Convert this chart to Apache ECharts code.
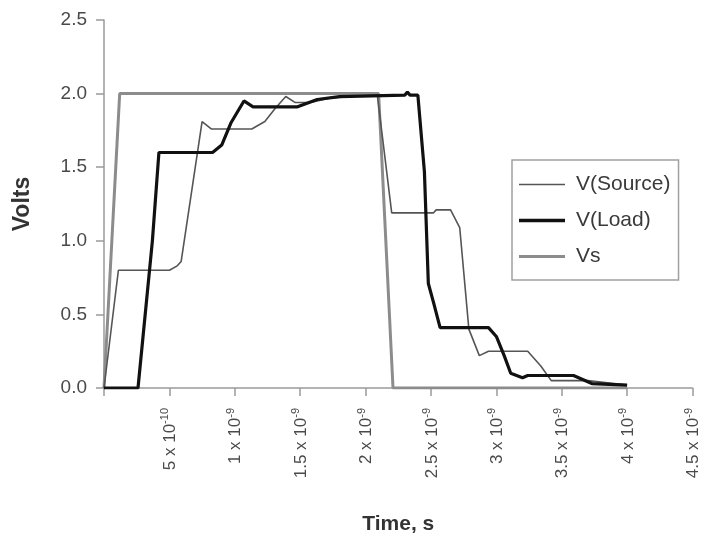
<!DOCTYPE html>
<html>
<head>
<meta charset="utf-8">
<script src="https://cdn.jsdelivr.net/npm/echarts@6/dist/echarts.min.js"></script>
<style>html,body{margin:0;padding:0;background:#fff}#chart{width:702px;height:540px}</style>
</head>
<body>
<div id="chart"></div>
<script>
// time in units of 1e-10 s, voltage in volts
var seriesNames = ['V(Source)', 'V(Load)', 'Vs'];
var vSourceT = [0, 1.1, 5.0, 5.6, 5.9, 7.5, 8.2, 11.3, 12.3, 13.1, 13.9, 14.6, 15.8, 17.3, 20.9, 21.0, 22.0, 25.2, 25.4, 26.5, 27.2, 27.9, 28.7, 29.4, 32.4, 33.4, 34.2, 37.0, 38.0, 40.0];
var vSourceV = [0, 0.8, 0.8, 0.83, 0.86, 1.81, 1.76, 1.76, 1.81, 1.90, 1.98, 1.94, 1.94, 1.97, 1.99, 2.0, 1.19, 1.19, 1.21, 1.21, 1.09, 0.40, 0.22, 0.25, 0.25, 0.15, 0.05, 0.05, 0.04, 0.02];
var vLoadT = [0, 2.6, 3.7, 4.2, 8.3, 9.0, 9.7, 10.7, 11.4, 14.8, 16.3, 18.0, 23.0, 23.2, 23.4, 24.0, 24.5, 24.8, 25.2, 25.7, 29.4, 30.0, 30.6, 31.1, 32.0, 32.4, 35.9, 37.3, 40.0];
var vLoadV = [0, 0, 1.0, 1.6, 1.6, 1.65, 1.8, 1.95, 1.91, 1.91, 1.96, 1.98, 1.99, 2.01, 1.99, 1.99, 1.47, 0.71, 0.58, 0.41, 0.41, 0.35, 0.22, 0.10, 0.07, 0.085, 0.085, 0.03, 0.02];
var vsT = [0, 1.2, 21.0, 22.1, 40.0];
var vsV = [0, 2.0, 2.0, 0, 0];
var xTickMant = ['', '5', '1', '1.5', '2', '2.5', '3', '3.5', '4', '4.5'];
var xTickExp = ['', '-10', '-9', '-9', '-9', '-9', '-9', '-9', '-9', '-9'];
var yTicks = ['0.0', '0.5', '1.0', '1.5', '2.0', '2.5'];

function pairs(t, v) { return t.map(function (x, i) { return [x, v[i]]; }); }

var chart = echarts.init(document.getElementById('chart'));
var axisColor = '#9a9a9a';
var labelColor = '#4a4a4a';
var font = 'Arial, "Liberation Sans", sans-serif';
var colors = ['#555555', '#111111', '#8c8c8c'];
chart.setOption({
  animation: false,
  backgroundColor: '#ffffff',
  grid: { left: 104, right: 3, top: 20, bottom: 147, containLabel: false },
  legend: {
    orient: 'vertical', left: 512, top: 160,
    padding: [14, 8, 13, 7],
    itemWidth: 46, itemHeight: 14, itemGap: 15,
    symbolKeepAspect: true,
    borderColor: '#a0a0a0', borderWidth: 1.5,
    textStyle: { fontSize: 21, color: '#3a3a3a', fontFamily: font, padding: [0, 0, 0, 6] },
    data: [
      { name: seriesNames[0], icon: 'path://M0,0h46v1.6h-46z', itemStyle: { color: colors[0] } },
      { name: seriesNames[1], icon: 'path://M0,0h46v3.4h-46z', itemStyle: { color: colors[1] } },
      { name: seriesNames[2], icon: 'path://M0,0h46v3h-46z', itemStyle: { color: colors[2] } }
    ]
  },
  xAxis: {
    type: 'value', min: 0, max: 45, interval: 5,
    name: 'Time, s', nameLocation: 'middle', nameGap: 126,
    nameTextStyle: { fontSize: 21, fontWeight: 'bold', color: '#333', fontFamily: font },
    axisLine: { lineStyle: { color: axisColor, width: 1.5 } },
    axisTick: { show: true, length: 8, lineStyle: { color: axisColor, width: 1.5 } },
    splitLine: { show: false },
    axisLabel: {
      rotate: 90, margin: 20, color: labelColor, fontFamily: font,
      formatter: function (val) {
        var i = Math.round(val / 5);
        if (!xTickMant[i]) return '';
        return '{b|' + xTickMant[i] + ' x 10}{s|' + xTickExp[i] + '}';
      },
      rich: {
        b: { fontSize: 17, color: labelColor, fontFamily: font, lineHeight: 19, verticalAlign: 'bottom' },
        s: { fontSize: 11, color: labelColor, fontFamily: font, lineHeight: 11, verticalAlign: 'top', padding: [0, 0, 7, 0] }
      }
    }
  },
  yAxis: {
    type: 'value', min: 0, max: 2.5, interval: 0.5,
    name: 'Volts', nameLocation: 'middle', nameGap: 70, nameRotate: 90,
    nameTextStyle: { fontSize: 23, fontWeight: 'bold', color: '#333', fontFamily: font },
    axisLine: { show: true, lineStyle: { color: axisColor, width: 1.5 } },
    axisTick: { show: true, length: 8, lineStyle: { color: axisColor, width: 1.5 } },
    splitLine: { show: false },
    axisLabel: {
      margin: 17, fontSize: 19, color: labelColor, fontFamily: font,
      formatter: function (val) { return yTicks[Math.round(val / 0.5)]; }
    }
  },
  series: [
    { name: seriesNames[0], type: 'line', data: pairs(vSourceT, vSourceV), symbol: 'none', z: 3,
      lineStyle: { color: colors[0], width: 1.6 }, itemStyle: { color: colors[0] } },
    { name: seriesNames[1], type: 'line', data: pairs(vLoadT, vLoadV), symbol: 'none', z: 4,
      lineStyle: { color: colors[1], width: 3.2 }, itemStyle: { color: colors[1] } },
    { name: seriesNames[2], type: 'line', data: pairs(vsT, vsV), symbol: 'none', z: 2,
      lineStyle: { color: colors[2], width: 3 }, itemStyle: { color: colors[2] } }
  ]
});
</script>
</body>
</html>
